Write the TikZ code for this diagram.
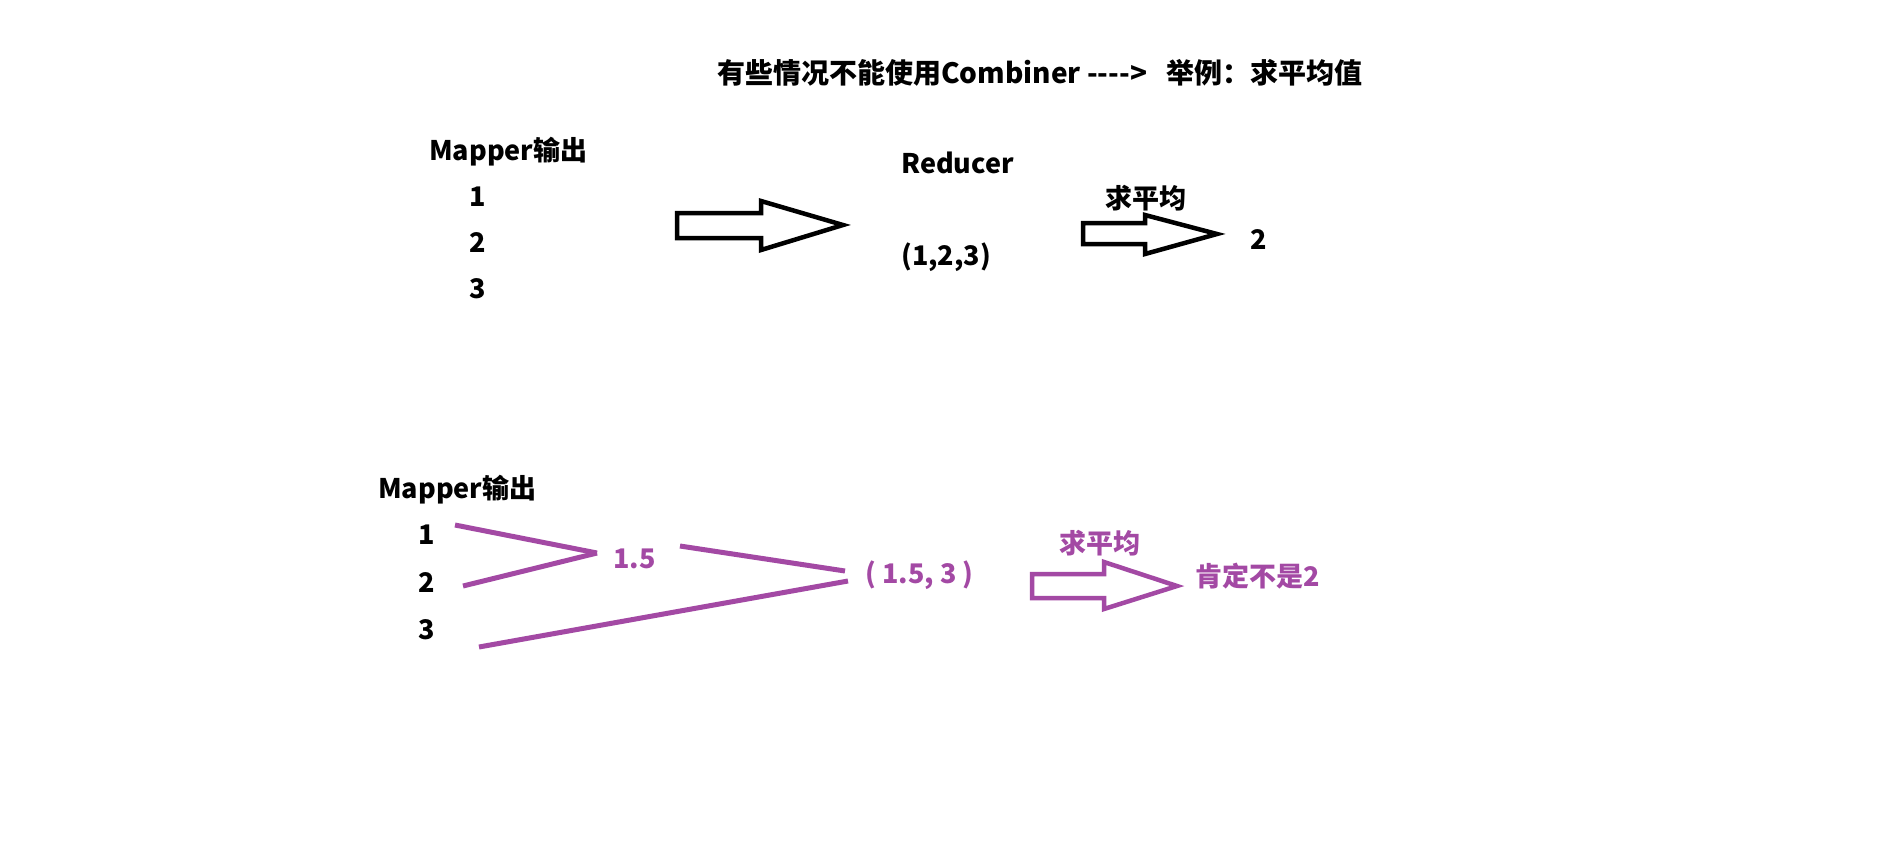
\documentclass[tikz,border=0pt]{standalone}
\usepackage{fontspec}
\setmainfont{Noto Sans CJK SC}
\definecolor{ppurple}{RGB}{163,73,164}
\tikzset{
  txt/.style={anchor=west, inner sep=0pt, font=\fontsize{27}{30}\selectfont\bfseries},
  ptxt/.style={txt, text=ppurple},
  blockarrow/.style={draw=black, line width=4.5pt, line join=miter, fill=white},
  pblockarrow/.style={draw=ppurple, line width=4.5pt, line join=miter, fill=white},
  pline/.style={draw=ppurple, line width=5pt}
}
\begin{document}
\begin{tikzpicture}[x=1pt,y=-1pt]
\useasboundingbox[fill=white] (0,0) rectangle (1902,855);
% title
\node[txt, font=\fontsize{28}{30}\selectfont\bfseries] (title) at (717,73) {有些情况不能使用Combiner {-}{-}{-}{-}>\ \ \ 举例：求平均值};
% top section
\node[txt] (map1) at (429,152) {Mapper输出};
\node[txt] (a1) at (469,197) {1};
\node[txt] (a2) at (469,243) {2};
\node[txt] (a3) at (469,289) {3};
\draw[blockarrow] (677,213) -- (761,213) -- (761,201) -- (843,225) -- (761,250) -- (761,238) -- (677,238) -- cycle;
\node[txt] (red) at (901,163) {Reducer};
\node[txt] (tup) at (901,257) {(1,2,3)};
\node[txt] (avg1) at (1105,198) {求平均};
\draw[blockarrow] (1083,223) -- (1145,223) -- (1145,215) -- (1217,234) -- (1145,254) -- (1145,244) -- (1083,244) -- cycle;
\node[txt] (res1) at (1250,240) {2};
% bottom section
\node[txt] (map2) at (378,490) {Mapper输出};
\node[txt] (b1) at (418,535) {1};
\node[txt] (b2) at (418,582) {2};
\node[txt] (b3) at (418,630) {3};
\coordinate (l1s) at (455,525);
\coordinate (l2s) at (463,586);
\coordinate (m1) at (597,553);
\coordinate (l3s) at (680,546);
\coordinate (m2) at (845,571);
\coordinate (l4s) at (479,647);
\coordinate (m3) at (848,581);
\draw[pline] (l1s) -- (m1);
\draw[pline] (l2s) -- (m1);
\node[ptxt] (half) at (613,559) {1.5};
\draw[pline] (l3s) -- (m2);
\draw[pline] (l4s) -- (m3);
\node[ptxt] (ptup) at (865,575) {(\ 1.5, 3\ )};
\node[ptxt] (avg2) at (1059,543) {求平均};
\draw[pblockarrow] (1032,574) -- (1104,574) -- (1104,562) -- (1177,586) -- (1104,609) -- (1104,598) -- (1032,598) -- cycle;
\node[ptxt] (res2) at (1195,576) {肯定不是2};
\end{tikzpicture}
\end{document}
